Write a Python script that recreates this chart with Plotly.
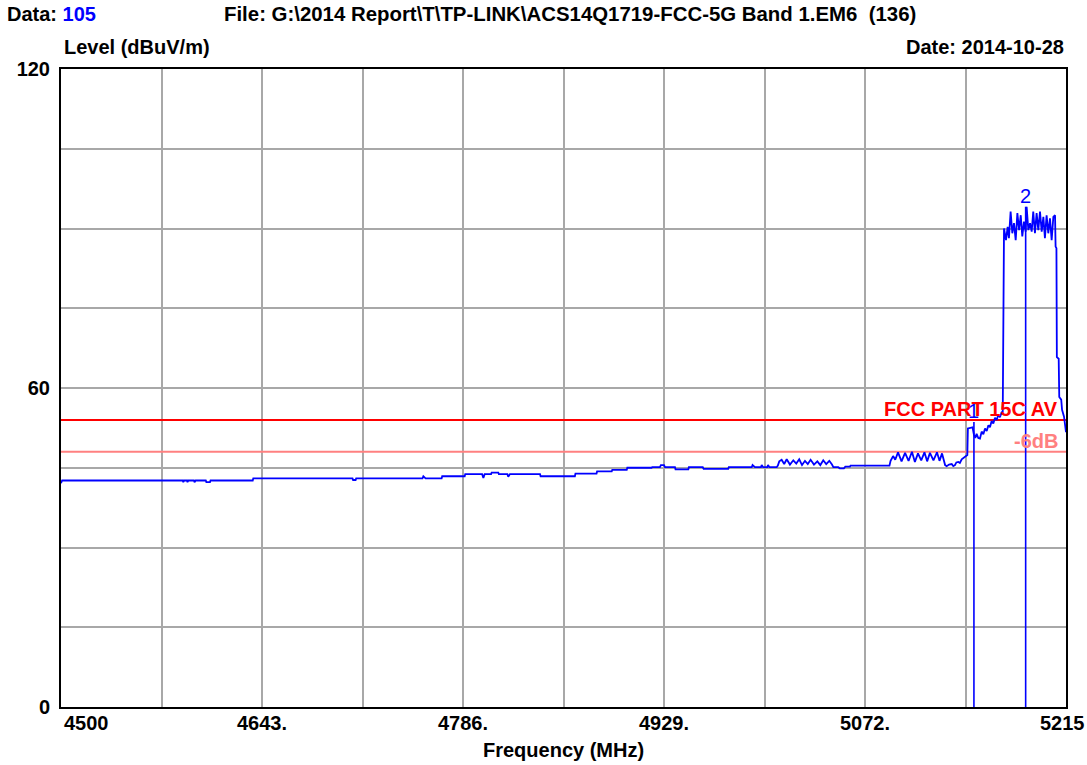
import plotly.graph_objects as go

# ---------------- data ----------------
freq_mhz = [
    4500.0, 4500.8, 4586.6, 4587.0, 4587.6, 4589.6, 4590.0, 4590.6, 4594.6, 4595.0,
    4595.8, 4603.0, 4603.4, 4606.0, 4606.4, 4636.4, 4636.8, 4707.4, 4707.8, 4709.6,
    4710.0, 4757.2, 4757.8, 4759.4, 4770.8, 4771.2, 4787.2, 4787.6, 4799.6, 4800.5,
    4801.4, 4806.0, 4806.4, 4811.1, 4811.5, 4817.6, 4818.2, 4819.4, 4840.8, 4841.2,
    4865.6, 4866.0, 4881.0, 4881.4, 4891.8, 4892.2, 4902.5, 4902.9, 4920.2, 4920.6,
    4926.1, 4926.8, 4929.0, 4929.7, 4936.8, 4937.2, 4946.3, 4946.7, 4956.6, 4957.2,
    4959.4, 4974.7, 4975.1, 4991.4, 4992.0, 4993.7, 4998.0, 4998.5, 4999.5, 5002.5,
    5003.0, 5004.0, 5009.2,
    5010.0, 5011.0, 5012.7, 5014.5, 5016.3, 5018.6, 5021.0, 5023.1, 5025.2, 5027.2,
    5029.3, 5031.3, 5033.3, 5035.7, 5038.1, 5040.2, 5042.3, 5044.4, 5046.6, 5048.5,
    5049.5, 5053.0, 5054.0, 5057.0, 5058.0, 5061.3, 5061.7, 5089.4,
    5090.2, 5092.0, 5093.5, 5095.5, 5098.0, 5100.5, 5103.0, 5105.4, 5107.5, 5109.7,
    5112.0, 5114.3, 5116.2, 5118.2, 5120.7, 5123.2, 5125.0, 5126.8, 5128.0, 5129.0,
    5130.1, 5131.8, 5133.7, 5134.8, 5136.0, 5137.0, 5138.4, 5139.5, 5140.8, 5143.1,
    5144.8, 5145.2, 5148.5, 5149.5, 5150.5, 5151.4, 5152.6, 5153.8, 5155.0, 5156.2,
    5157.4, 5158.6, 5159.8, 5160.9, 5162.1, 5163.3, 5164.5, 5165.7, 5166.9, 5168.0,
    5169.2, 5170.0, 5170.3, 5170.8, 5170.9,
    5172.3, 5173.5, 5174.4, 5175.6, 5176.8, 5178.0, 5179.2, 5180.4, 5181.6, 5182.8,
    5183.9, 5185.1, 5186.3, 5187.0, 5188.2, 5189.4, 5190.6, 5191.7, 5192.9, 5194.1,
    5195.3, 5196.5, 5197.7, 5198.9, 5200.0, 5201.2, 5202.4, 5203.6, 5204.8, 5206.0,
    5207.2, 5207.6, 5208.2, 5208.5, 5209.8, 5210.2, 5211.6, 5212.2, 5213.6, 5214.2,
    5215.0,
]
level_dbuv = [
    42.1, 42.6, 42.6, 42.3, 42.6, 42.6, 42.3, 42.6, 42.6, 42.3,
    42.6, 42.6, 42.3, 42.3, 42.6, 42.6, 43.0, 43.0, 42.7, 42.7,
    43.0, 43.0, 43.4, 43.0, 43.0, 43.4, 43.4, 43.8, 43.8, 43.1,
    43.8, 43.8, 44.1, 44.1, 43.8, 43.8, 43.3, 43.8, 43.8, 43.4,
    43.4, 43.9, 43.9, 44.3, 44.3, 44.6, 44.6, 45.0, 45.0, 45.1,
    45.1, 45.5, 45.5, 45.1, 45.1, 44.7, 44.7, 45.1, 45.1, 44.8,
    44.8, 44.8, 45.1, 45.1, 45.5, 45.1, 45.1, 45.5, 45.1, 45.1,
    45.5, 45.1, 45.1,
    45.4, 46.2, 46.5, 45.7, 46.6, 45.6, 46.4, 45.8, 46.6, 45.5,
    46.3, 45.7, 46.5, 45.6, 46.2, 45.5, 46.4, 45.7, 46.3, 45.6,
    45.1, 45.1, 44.9, 44.9, 45.2, 45.2, 45.4, 45.4,
    46.3, 47.2, 46.5, 47.9, 46.2, 47.8, 46.3, 48.0, 46.1, 47.7,
    46.4, 47.9, 46.2, 47.8, 46.4, 47.9, 46.3, 47.7, 46.5, 45.5,
    45.3, 45.6, 45.7, 45.3, 45.5, 46.0, 46.1, 45.9, 46.6, 47.1,
    47.4, 52.4, 52.6, 51.2, 50.6, 51.4, 50.6, 50.5, 51.8, 51.3,
    52.4, 51.9, 53.0, 52.6, 53.8, 53.3, 54.4, 54.0, 55.0, 54.5,
    55.4, 55.3, 73.4, 73.4, 90.0,
    87.8, 90.3, 88.2, 93.2, 89.1, 91.0, 87.8, 92.9, 89.7, 92.5,
    88.5, 91.3, 89.4, 94.1, 89.7, 91.0, 89.4, 93.2, 89.1, 92.9,
    89.7, 93.2, 89.4, 92.2, 88.2, 92.5, 89.1, 91.9, 87.8, 92.2,
    92.5, 86.6, 86.3, 65.8, 65.5, 58.3, 57.8, 55.9, 54.6, 52.7,
    51.7,
]

marker_freq = [5149.5, 5186.3]
marker_level = [53.6, 94.1]
marker_labels = ["1", "2"]

limit_levels = [54.0, 48.0]
limit_names = ["FCC PART 15C AV", "-6dB"]
limit_colors = ["#ff0000", "#ff8080"]

x_min, x_max = 4500, 5215
y_min, y_max = 0, 120
x_tick_values = [4500, 4643, 4786, 4929, 5072, 5215]
x_tick_labels = ["4500", "4643.", "4786.", "4929.", "5072.", "5215"]
y_tick_labels = ["0", "60", "120"]

header_data_no = "105"
header_file = "File: G:\\2014 Report\\T\\TP-LINK\\ACS14Q1719-FCC-5G Band 1.EM6\u00a0\u00a0(136)"
header_date = "Date: 2014-10-28"
y_title = "Level (dBuV/m)"
x_title = "Frequency (MHz)"

# ---------------- figure ----------------
FONT = "Liberation Sans, Arial, sans-serif"
BLUE = "#0000ff"
W, H = 1087, 765
L, R, T, B = 61, 21, 69, 58
PW, PH = W - L - R, H - T - B


def px_x(px):
    return (px - L) / PW


def px_y(py):
    return (H - B - py) / PH


fig = go.Figure()

# limit lines
for lvl, col in zip(limit_levels, limit_colors):
    fig.add_trace(go.Scatter(x=[x_min, x_max], y=[lvl, lvl], mode="lines",
                             line=dict(color=col, width=2), hoverinfo="skip"))

# marker lines
for mf, ml in zip(marker_freq, marker_level):
    fig.add_trace(go.Scatter(x=[mf, mf], y=[0, ml], mode="lines",
                             line=dict(color=BLUE, width=1.6), hoverinfo="skip"))

# measured trace
fig.add_trace(go.Scatter(x=freq_mhz, y=level_dbuv, mode="lines",
                         line=dict(color=BLUE, width=1.8)))

x_grid = [x_min + (x_max - x_min) * i / 10 for i in range(11)]
y_grid = list(range(y_min, y_max + 1, 15))
y_text = [str(v) if str(v) in y_tick_labels else "" for v in y_grid]

bold = dict(family=FONT, size=20, color="black", weight="bold")

fig.update_layout(
    width=W, height=H,
    margin=dict(l=L, r=R, t=T, b=B),
    paper_bgcolor="white", plot_bgcolor="white",
    showlegend=False,
    font=dict(family=FONT, size=20, color="black"),
    xaxis=dict(range=[x_min, x_max], tickmode="array", tickvals=x_grid,
               ticktext=[""] * len(x_grid),
               showgrid=True, gridcolor="#a8a8a8", gridwidth=2, zeroline=False,
               showline=True, linecolor="black", linewidth=2, mirror=True,
               ticks="", tickfont=bold, automargin=False),
    yaxis=dict(range=[y_min, y_max], tickmode="array", tickvals=y_grid, ticktext=y_text,
               showgrid=True, gridcolor="#a8a8a8", gridwidth=2, zeroline=False,
               showline=True, linecolor="black", linewidth=2, mirror=True,
               ticks="", tickfont=bold, ticklabelstandoff=5, automargin=False),
)

ann = []
# x tick labels (first left-aligned, last nudged inside like the reference)
for i, (xv, xt) in enumerate(zip(x_tick_values, x_tick_labels)):
    if i == 0:
        anchor, shift = "left", 1
    elif i == len(x_tick_values) - 1:
        anchor, shift = "center", -4
    else:
        anchor, shift = "center", 0
    ann.append(dict(x=xv, y=px_y(723), xref="x", yref="paper", text=xt,
                    xanchor=anchor, yanchor="middle", showarrow=False, font=bold,
                    xshift=shift))
# headers
ann.append(dict(x=px_x(5), y=px_y(14), xref="paper", yref="paper",
                text="Data: <span style='color:%s'>%s</span>" % (BLUE, header_data_no),
                xanchor="left", yanchor="middle", showarrow=False, font=bold))
ann.append(dict(x=px_x(222), y=px_y(14), xref="paper", yref="paper", text=header_file,
                xanchor="left", yanchor="middle", showarrow=False,
                font=dict(family=FONT, size=20.4, color="black", weight="bold")))
ann.append(dict(x=px_x(62), y=px_y(47), xref="paper", yref="paper", text=y_title,
                xanchor="left", yanchor="middle", showarrow=False, font=bold))
ann.append(dict(x=px_x(1066), y=px_y(47), xref="paper", yref="paper", text=header_date,
                xanchor="right", yanchor="middle", showarrow=False, font=bold))
ann.append(dict(x=px_x(563), y=px_y(750), xref="paper", yref="paper", text=x_title,
                xanchor="center", yanchor="middle", showarrow=False, font=bold))
# limit labels
for lvl, name, col in zip(limit_levels, limit_names, limit_colors):
    ann.append(dict(x=x_max, y=lvl, xref="x", yref="y", text=name, xanchor="right",
                    yanchor="bottom", showarrow=False, xshift=-6, yshift=-2,
                    font=dict(family=FONT, size=20, color=col, weight="bold")))
# marker labels
for mf, ml, lab in zip(marker_freq, marker_level, marker_labels):
    ann.append(dict(x=mf, y=ml, xref="x", yref="y", text=lab, xanchor="center",
                    yanchor="bottom", showarrow=False, yshift=-2,
                    font=dict(family=FONT, size=20, color=BLUE)))

fig.update_layout(annotations=ann)
fig.write_html(
    "out.html",
    config={"displayModeBar": False},
    post_script="document.body.style.margin='0';document.body.style.padding='0';"
                "document.body.style.overflow='hidden';",
)
